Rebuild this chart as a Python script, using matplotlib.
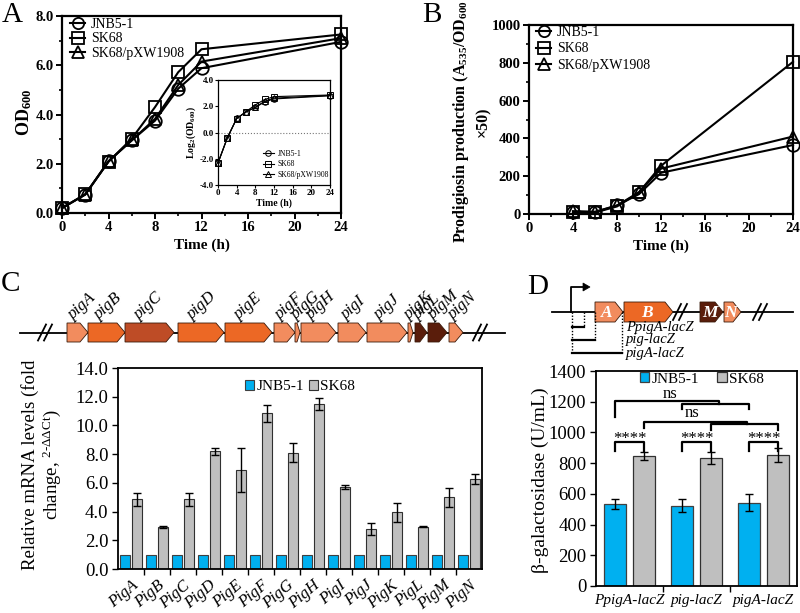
import numpy as np
import matplotlib
matplotlib.use('Agg')
import matplotlib.pyplot as plt
from matplotlib.patches import Polygon, Patch
from matplotlib.ticker import MultipleLocator, FormatStrFormatter, FixedLocator, NullFormatter
from matplotlib.lines import Line2D

plt.rcParams['font.family'] = ['Liberation Serif', 'DejaVu Serif']
plt.rcParams['mathtext.fontset'] = 'custom'
plt.rcParams['mathtext.rm'] = 'Liberation Serif'
plt.rcParams['mathtext.it'] = 'Liberation Serif:italic'
plt.rcParams['mathtext.bf'] = 'Liberation Serif:bold'

# ---------------- data ----------------
strains = ['JNB5-1', 'SK68', 'SK68/pXW1908']
time_a = [0, 2, 4, 6, 8, 10, 12, 24]
od_jnb = [0.20, 0.75, 2.10, 2.95, 3.75, 5.05, 5.88, 6.95]
od_sk68 = [0.20, 0.76, 2.08, 3.02, 4.30, 5.72, 6.65, 7.25]
od_pxw = [0.20, 0.75, 2.10, 2.95, 3.82, 5.20, 6.15, 7.10]

time_b = [4, 6, 8, 10, 12, 24]
prod_jnb = [12, 10, 45, 105, 218, 365]
prod_sk68 = [10, 8, 40, 115, 255, 805]
prod_pxw = [15, 12, 45, 115, 240, 410]

genes_c = ['PigA', 'PigB', 'PigC', 'PigD', 'PigE', 'PigF', 'PigG',
           'PigH', 'PigI', 'PigJ', 'PigK', 'PigL', 'PigM', 'PigN']
mrna_jnb = [1.0] * 14
mrna_sk68 = [4.85, 2.90, 4.85, 8.20, 6.90, 10.85, 8.10, 11.50, 5.70, 2.80, 3.95, 2.95, 5.00, 6.30]
mrna_sk68_err = [0.45, 0.07, 0.45, 0.25, 1.55, 0.60, 0.65, 0.40, 0.12, 0.40, 0.65, 0.05, 0.65, 0.35]

constructs = ['PpigA-lacZ', 'pig-lacZ', 'pigA-lacZ']
gal_jnb = [535, 522, 543]
gal_jnb_err = [33, 42, 55]
gal_sk68 = [848, 832, 855]
gal_sk68_err = [27, 40, 45]

cluster_names = ['pigA', 'pigB', 'pigC', 'pigD', 'pigE', 'pigF', 'pigG',
                 'pigH', 'pigI', 'pigJ', 'pigK', 'pigL', 'pigM', 'pigN']

# ---------------- layout helpers ----------------
W, H = 800, 613
fig = plt.figure(figsize=(8, 6.13), dpi=100)


def rect(l, t, r, b):
    return [l / W, 1 - b / H, (r - l) / W, (b - t) / H]


def fx(x):
    return x / W


def fy(y):
    return 1 - y / H


LIGHT = '#F28C5E'
MID = '#EC6825'
RED = '#BE4C26'
DARK = '#5A1D0B'
BLUE = '#00B0F0'
GREY = '#BFBFBF'

ov = fig.add_axes([0, 0, 1, 1])
ov.set_xlim(0, W)
ov.set_ylim(H, 0)
ov.axis('off')


def gene(x0, x1, yc, h, color, head=8):
    head = min(head, (x1 - x0) * 0.6)
    pts = [(x0, yc - h / 2), (x1 - head, yc - h / 2), (x1, yc),
           (x1 - head, yc + h / 2), (x0, yc + h / 2)]
    ov.add_patch(Polygon(pts, closed=True, facecolor=color, edgecolor='#3a1a0a', lw=0.6, zorder=3))


def breakmark(x, yc, h=16):
    for dx in (-3, 3):
        ov.plot([x + dx - 4, x + dx + 4], [yc + h / 2, yc - h / 2], color='black', lw=1.3, zorder=4)


# ---------------- Panel A ----------------
axA = fig.add_axes(rect(62, 16, 341, 213))
markers = ['o', 's', '^']
for y, m, lab in zip([od_jnb, od_sk68, od_pxw], markers, strains):
    axA.plot(time_a, y, color='black', lw=1.5, marker=m, ms=9, mfc='none',
             mec='black', mew=1.3, label=lab, clip_on=False, zorder=3)
axA.set_xlim(0, 24)
axA.set_ylim(0, 8)
axA.xaxis.set_major_locator(MultipleLocator(4))
axA.xaxis.set_minor_locator(MultipleLocator(2))
axA.yaxis.set_major_locator(MultipleLocator(2))
axA.yaxis.set_minor_locator(MultipleLocator(1))
axA.yaxis.set_major_formatter(FormatStrFormatter('%.1f'))
for s in axA.spines.values():
    s.set_linewidth(1.6)
axA.tick_params(which='major', length=4, width=1.4, labelsize=10.5, pad=2)
axA.tick_params(which='minor', length=2.5, width=1.2)
for t in axA.get_xticklabels() + axA.get_yticklabels():
    t.set_fontweight('bold')
axA.set_xlabel('Time (h)', fontsize=11, fontweight='bold', labelpad=3)
fig.text(fx(24), fy(112), r'OD$_{\mathbf{600}}$', rotation=90, fontsize=13,
         fontweight='bold', ha='center', va='center')
axA.legend(loc='upper left', bbox_to_anchor=(fx(70), fy(18)), bbox_transform=fig.transFigure,
           frameon=False, fontsize=10, handlelength=1.1, handletextpad=0.4, markerscale=0.9,
           labelspacing=0.1, borderaxespad=0, borderpad=0)

# inset
axI = fig.add_axes(rect(218, 80, 330, 185))
for y, m, lab in zip([od_jnb, od_sk68, od_pxw], markers, strains):
    axI.plot(time_a, np.log2(y), color='black', lw=0.8, marker=m, ms=4, mfc='none',
             mec='black', mew=0.7, label=lab, clip_on=False, zorder=3)
axI.axhline(0, color='#777777', lw=0.8, ls=':')
axI.set_xlim(0, 24)
axI.set_ylim(-4, 4)
axI.xaxis.set_major_locator(MultipleLocator(4))
axI.yaxis.set_major_locator(MultipleLocator(2))
axI.yaxis.set_major_formatter(FormatStrFormatter('%.1f'))
for s in axI.spines.values():
    s.set_linewidth(0.9)
axI.tick_params(length=2, width=0.8, labelsize=6.5, pad=1)
for t in axI.get_xticklabels() + axI.get_yticklabels():
    t.set_fontweight('bold')
axI.set_xlabel('Time (h)', fontsize=7, fontweight='bold', labelpad=1)
axI.set_ylabel(r'Log$_{\mathbf{2}}$(OD$_{\mathbf{600}}$)', fontsize=7, fontweight='bold', labelpad=1)
axI.legend(loc='upper left', bbox_to_anchor=(fx(263), fy(150)), bbox_transform=fig.transFigure,
           frameon=False, fontsize=5.5, handlelength=1.4, handletextpad=0.5,
           labelspacing=0.3, borderaxespad=0, borderpad=0)

# ---------------- Panel B ----------------
axB = fig.add_axes(rect(529, 25, 793, 214))
for y, m, lab in zip([prod_jnb, prod_sk68, prod_pxw], markers, strains):
    axB.plot(time_b, y, color='black', lw=1.5, marker=m, ms=9, mfc='none',
             mec='black', mew=1.3, label=lab, clip_on=False, zorder=3)
axB.set_xlim(0, 24)
axB.set_ylim(0, 1000)
axB.xaxis.set_major_locator(MultipleLocator(4))
axB.xaxis.set_minor_locator(MultipleLocator(2))
axB.yaxis.set_major_locator(MultipleLocator(200))
axB.yaxis.set_minor_locator(MultipleLocator(100))
for s in axB.spines.values():
    s.set_linewidth(1.6)
axB.tick_params(which='major', length=4, width=1.4, labelsize=10.5, pad=2)
axB.tick_params(which='minor', length=2.5, width=1.2)
for t in axB.get_xticklabels() + axB.get_yticklabels():
    t.set_fontweight('bold')
axB.set_xlabel('Time (h)', fontsize=11, fontweight='bold', labelpad=3)
fig.text(fx(471), fy(122), 'Prodigiosin production (A$_{\\mathbf{535}}$/OD$_{\\mathbf{600}}$\n\u00d750)',
         rotation=90, fontsize=11.5, fontweight='bold', ha='center', va='center',
         multialignment='center', linespacing=1.3)
axB.legend(loc='upper left', bbox_to_anchor=(fx(536), fy(26)), bbox_transform=fig.transFigure,
           frameon=False, fontsize=10, handlelength=1.1, handletextpad=0.4, markerscale=0.9,
           labelspacing=0.25, borderaxespad=0, borderpad=0)

# ---------------- Panel C gene cluster ----------------
c_bounds = [(67, 88), (88, 125), (125, 174), (178, 224), (225, 272), (274, 295), (295, 300),
            (301, 336), (338, 366), (367, 407), (408, 413), (415, 427), (428, 447), (449, 463)]
c_colors = [LIGHT, MID, RED, MID, MID, LIGHT, LIGHT, LIGHT, LIGHT, LIGHT, LIGHT, DARK, DARK, LIGHT]
yC = 332.5
ov.plot([20, 505], [yC, yC], color='black', lw=1.3, zorder=2)
breakmark(45, yC)
breakmark(480, yC)
for name, (a, b), col in zip(cluster_names, c_bounds, c_colors):
    gene(a, b, yC, 19, col)
    ov.text(a + 0.3 * (b - a), 320, name, rotation=42, rotation_mode='anchor',
            ha='left', va='baseline', fontsize=12, style='italic', zorder=5)

# ---------------- Panel C bars ----------------
axC = fig.add_axes(rect(118, 368, 482, 569))
x = np.arange(len(genes_c))
bw = 0.37
axC.bar(x - 0.22, mrna_jnb, bw, color=BLUE, edgecolor='#404040', lw=0.8, label='JNB5-1', zorder=2)
axC.bar(x + 0.22, mrna_sk68, bw, color=GREY, edgecolor='#303030', lw=0.8, label='SK68', zorder=2,
        yerr=mrna_sk68_err, error_kw=dict(ecolor='black', elinewidth=1, capsize=3, capthick=1))
axC.set_xlim(-0.5, len(genes_c) - 0.5)
axC.set_ylim(0, 14)
axC.yaxis.set_major_locator(MultipleLocator(2))
axC.yaxis.set_major_formatter(FormatStrFormatter('%.1f'))
axC.xaxis.set_major_locator(FixedLocator(np.arange(0.5, len(genes_c) - 0.5, 1)))
axC.xaxis.set_major_formatter(NullFormatter())
axC.xaxis.set_minor_locator(FixedLocator(x))
axC.set_xticklabels(genes_c, minor=True, rotation=40, rotation_mode='anchor', ha='right',
                    va='top', fontsize=12, style='italic')
axC.tick_params(axis='x', which='minor', length=0, pad=6)
axC.tick_params(axis='x', which='major', length=4, width=1)
axC.tick_params(axis='y', length=4, width=1, labelsize=13.5, pad=3)
for s in axC.spines.values():
    s.set_linewidth(1.3)
fig.text(fx(42), fy(465), 'Relative mRNA levels (fold\nchange, ${}^{\\mathrm{2\\text{-}\\Delta\\Delta Ct}}$)',
         rotation=90, fontsize=13.5, ha='center', va='center', multialignment='center',
         linespacing=1.1)
axC.legend(loc='upper center', bbox_to_anchor=(0.5, 0.985), ncol=2, frameon=False, fontsize=11,
           handlelength=0.6, handleheight=0.6, handletextpad=0.15, columnspacing=0.3,
           borderaxespad=0.2)

# ---------------- Panel D gene map ----------------
yD = 312
ov.plot([552, 793], [yD, yD], color='black', lw=1.3, zorder=2)
breakmark(680, yD)
breakmark(760, yD)
d_genes = [('A', 595, 623, LIGHT), ('B', 624, 673, MID), ('M', 700, 723, DARK), ('N', 724, 741, LIGHT)]
for lab, a, b, col in d_genes:
    gene(a, b, yD, 20, col)
    ov.text((a + b) / 2 - 2, yD + 1, lab, color='white', fontsize=12.5, fontweight='bold',
            style='italic', ha='center', va='center', zorder=5)
# promoter arrow
ov.plot([571, 571, 584], [yD, 287, 287], color='black', lw=1.3, zorder=4)
ov.add_patch(Polygon([(583, 283), (590, 287), (583, 291)], closed=True, facecolor='black',
                     edgecolor='black', lw=0.5, zorder=4))
# constructs
c_ends = [584, 595, 622]
c_ys = [327, 340, 353]
for xe, yy, lab in zip(c_ends, c_ys, constructs):
    ov.plot([572, xe], [yy, yy], color='black', lw=1.6, zorder=4)
    ov.plot([xe, xe], [yD, yy], color='black', lw=1.0, ls=(0, (1, 1.2)), zorder=4)
    ov.text(626, yy, lab, fontsize=10.5, style='italic', ha='left', va='center', zorder=5)
ov.plot([572, 572], [yD, 353], color='black', lw=1.0, ls=(0, (1, 1.2)), zorder=4)

# ---------------- Panel D bars ----------------
axD = fig.add_axes(rect(596, 371, 797, 586))
xd = np.arange(len(constructs))
bwd = 0.33
axD.bar(xd - 0.21, gal_jnb, bwd, color=BLUE, edgecolor='#404040', lw=0.9, label='JNB5-1', zorder=2,
        yerr=gal_jnb_err, error_kw=dict(ecolor='black', elinewidth=1, capsize=3, capthick=1))
axD.bar(xd + 0.22, gal_sk68, bwd, color=GREY, edgecolor='#303030', lw=0.9, label='SK68', zorder=2,
        yerr=gal_sk68_err, error_kw=dict(ecolor='black', elinewidth=1, capsize=3, capthick=1))
axD.set_xlim(-0.5, len(constructs) - 0.5)
axD.set_ylim(0, 1400)
axD.yaxis.set_major_locator(MultipleLocator(200))
axD.xaxis.set_major_locator(FixedLocator([0.5, 1.5]))
axD.xaxis.set_major_formatter(NullFormatter())
axD.xaxis.set_minor_locator(FixedLocator(xd))
axD.set_xticklabels(constructs, minor=True, fontsize=11, style='italic')
axD.tick_params(axis='x', which='minor', length=0, pad=6)
axD.tick_params(axis='x', which='major', length=4, width=1)
axD.tick_params(axis='y', length=4, width=1, labelsize=13.5, pad=3)
for s in axD.spines.values():
    s.set_linewidth(1.3)
fig.text(fx(540), fy(480), '\u03b2-galactosidase (U/mL)', rotation=90, fontsize=14,
         ha='center', va='center')
axD.legend(loc='center', bbox_to_anchor=(fx(702), fy(379)), bbox_transform=fig.transFigure,
           ncol=2, frameon=False, fontsize=11,
           handlelength=0.6, handleheight=0.6, handletextpad=0.15, columnspacing=1.2,
           borderaxespad=0, borderpad=0)

blw = 1.6
# significance brackets (****)
for g in xd:
    xl, xr = g - 0.21, g + 0.22
    axD.plot([xl, xl, xr, xr], [877, 936, 936, 877], color='black', lw=blw, clip_on=False, zorder=4)
    axD.text((xl + xr) / 2, 955, '****', ha='center', va='center', fontsize=12, zorder=5)
# ns bracket 1 (JNB5-1)
axD.plot([-0.21, -0.21, 1.34, 1.34], [1099, 1203, 1203, 1184], color='black', lw=blw, clip_on=False)
axD.plot([0.79, 0.79, 1.79, 1.79], [1151, 1184, 1184, 1151], color='black', lw=blw, clip_on=False)
axD.text(0.60, 1250, 'ns', ha='center', va='center', fontsize=12)
# ns bracket 2 (SK68)
axD.plot([0.22, 0.22, 1.75, 1.75], [1027, 1066, 1066, 1053], color='black', lw=blw, clip_on=False)
axD.plot([1.22, 1.22, 2.22, 2.22], [1014, 1053, 1053, 1014], color='black', lw=blw, clip_on=False)
axD.text(0.93, 1125, 'ns', ha='center', va='center', fontsize=12)

# ---------------- Panel letters ----------------
for lab, px, py in [('A', 12, 15), ('B', 432, 15), ('C', 10, 284), ('D', 538, 287)]:
    fig.text(fx(px), fy(py), lab, fontsize=21, ha='center', va='center')

fig.savefig('out.png', dpi=100)
